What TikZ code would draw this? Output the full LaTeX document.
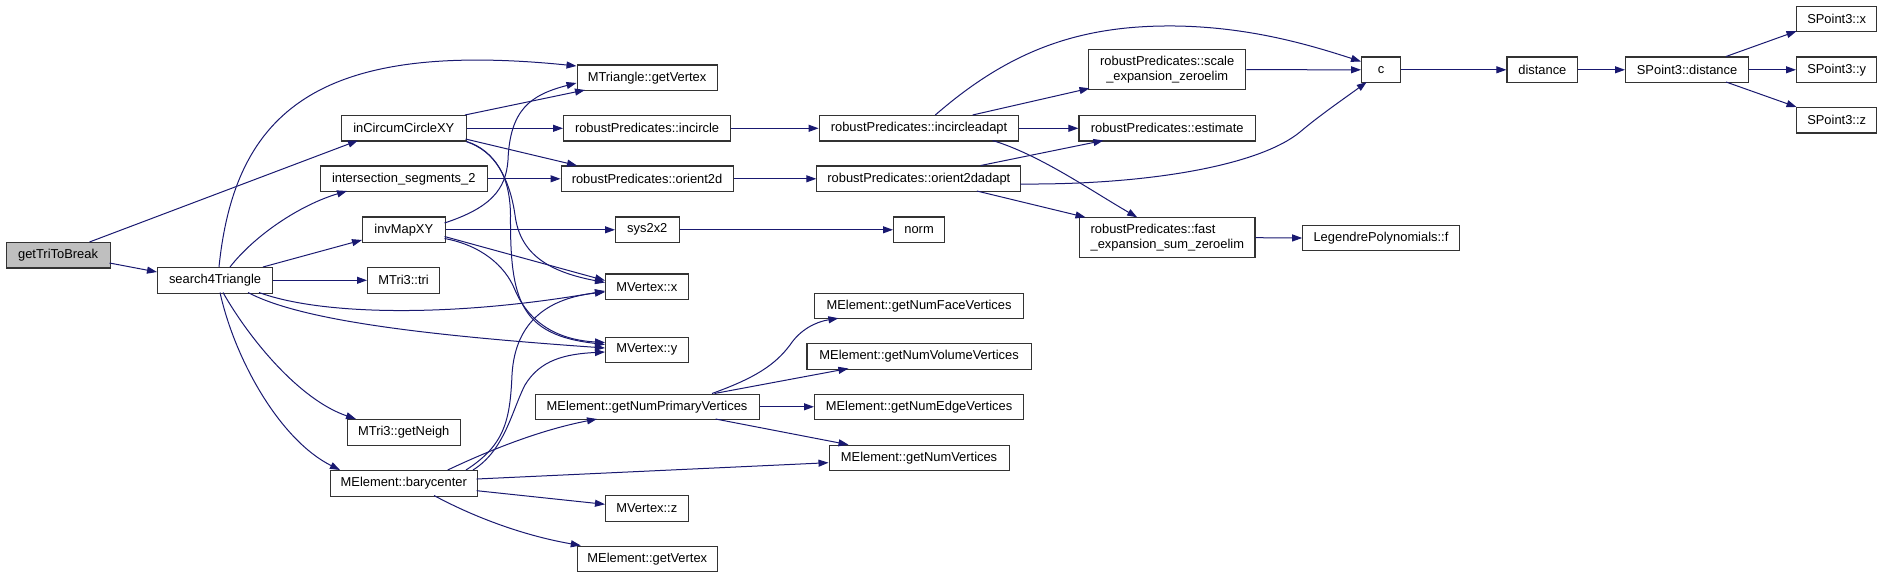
\documentclass[tikz,border=0pt]{standalone}
\usepackage{fontspec}
\setmainfont{Liberation Sans}
\usetikzlibrary{arrows.meta}
\definecolor{mblue}{HTML}{191970}
\definecolor{rootgray}{HTML}{BFBFBF}
\begin{document}
\begin{tikzpicture}[x=1pt,y=-1pt,
  box/.style={draw=black!80, line width=1.1pt, fill=white, inner sep=0pt, anchor=north west,
    font=\fontsize{12.9}{15}\selectfont, text=black},
  sz/.style 2 args={minimum width=#1pt, minimum height=#2pt},
  call/.style={draw=mblue, line width=1pt, -{Triangle[length=10pt,width=7pt]}},
]
\useasboundingbox (0,0) rectangle (1881,577);
% nodes
\node[box, sz={104}{25.5}, fill=rootgray] (gttb) at (5.5,242) {getTriToBreak};
\node[box, sz={115}{25.5}] (s4t) at (157,267) {search4Triangle};
\node[box, sz={140}{25.5}] (mtgv) at (576.5,64.5) {MTriangle::getVertex};
\node[box, sz={124.5}{25.5}] (icc) at (341,115) {inCircumCircleXY};
\node[box, sz={167}{25.5}] (incircle) at (563,115) {robustPredicates::incircle};
\node[box, sz={166.5}{25.5}] (is2) at (320,165.5) {intersection\_segments\_2};
\node[box, sz={172}{25.5}] (o2d) at (560.5,165.5) {robustPredicates::orient2d};
\node[box, sz={82.5}{25.5}] (inv) at (362,216.5) {invMapXY};
\node[box, sz={63.5}{25.5}] (sys) at (615,216.5) {sys2x2};
\node[box, sz={72}{25.5}] (tri) at (367,267) {MTri3::tri};
\node[box, sz={82.5}{25.5}] (mvx) at (605,273.5) {MVertex::x};
\node[box, sz={82.5}{25.5}] (mvy) at (605,336.5) {MVertex::y};
\node[box, sz={224}{25.5}] (gnpv) at (534.5,393.5) {MElement::getNumPrimaryVertices};
\node[box, sz={113}{25.5}] (neigh) at (346.7,419) {MTri3::getNeigh};
\node[box, sz={147}{25.5}] (bary) at (329.7,470) {MElement::barycenter};
\node[box, sz={82.5}{25.5}] (mvz) at (605,495) {MVertex::z};
\node[box, sz={140.5}{25.5}] (megv) at (576.5,545.5) {MElement::getVertex};
\node[box, sz={199.7}{25.5}] (ica) at (818.6,115) {robustPredicates::incircleadapt};
\node[box, sz={157.3}{39.7}, align=center] (see) at (1088,49.3) {robustPredicates::scale\\\_expansion\_zeroelim};
\node[box, sz={176.4}{25.5}] (est) at (1078.4,115) {robustPredicates::estimate};
\node[box, sz={204}{25.5}] (o2da) at (816.3,165.5) {robustPredicates::orient2dadapt};
\node[box, sz={51}{25.5}] (norm) at (893,216.5) {norm};
\node[box, sz={175.2}{39.7}, align=left] (fes) at (1079.2,217.3) {robustPredicates::fast\\\_expansion\_sum\_zeroelim};
\node[box, sz={156.4}{25.5}] (leg) at (1302.2,224.7) {LegendrePolynomials::f};
\node[box, sz={209}{25.5}] (gnfv) at (814,292.7) {MElement::getNumFaceVertices};
\node[box, sz={224.2}{25.5}] (gnvv) at (806.4,343) {MElement::getNumVolumeVertices};
\node[box, sz={209}{25.5}] (gnev) at (814,393.5) {MElement::getNumEdgeVertices};
\node[box, sz={180}{25.5}] (gnv) at (828.5,444.7) {MElement::getNumVertices};
\node[box, sz={39}{25.5}] (c) at (1361,56.5) {c};
\node[box, sz={70.8}{25.5}] (dist) at (1506.4,56.5) {distance};
\node[box, sz={123}{25.5}] (spd) at (1625,56.5) {SPoint3::distance};
\node[box, sz={80.2}{25.5}] (spx) at (1796,5.7) {SPoint3::x};
\node[box, sz={80.2}{25.5}] (spy) at (1796,56.5) {SPoint3::y};
\node[box, sz={80.2}{25.5}] (spz) at (1796,107) {SPoint3::z};
% edges
\draw[call] ([shift={(84,0)}]gttb.north west) -- ([shift={(17,25.5)}]icc.north west);
\draw[call] ([shift={(104,21)}]gttb.north west) -- ([shift={(0,5)}]s4t.north west);
\draw[call] ([shift={(62,0)}]s4t.north west) .. controls (235,110) and (320,40) .. ([shift={(0,1.5)}]mtgv.north west);
\draw[call] ([shift={(73,0)}]s4t.north west) .. controls (255,235) and (300,205) .. ([shift={(27,25.5)}]is2.north west);
\draw[call] ([shift={(106,0)}]s4t.north west) -- ([shift={(0,23.5)}]inv.north west);
\draw[call] (s4t.east) -- (tri.west);
\draw[call] ([shift={(102,25.5)}]s4t.north west) .. controls (320,315) and (450,318) .. ([shift={(0,17.5)}]mvx.north west);
\draw[call] ([shift={(91,25.5)}]s4t.north west) .. controls (300,320) and (420,335) .. ([shift={(0,11.5)}]mvy.north west);
\draw[call] ([shift={(66,25.5)}]s4t.north west) .. controls (250,340) and (300,400) .. ([shift={(9.3,0)}]neigh.north west);
\draw[call] ([shift={(63,25.5)}]s4t.north west) .. controls (235,360) and (280,440) .. ([shift={(10.3,0)}]bary.north west);
\draw[call] ([shift={(124,0)}]icc.north west) -- ([shift={(8.5,25.5)}]mtgv.north west);
\draw[call] (icc.east) -- (incircle.west);
\draw[call] ([shift={(124.5,24)}]icc.north west) -- ([shift={(16.5,0)}]o2d.north west);
\draw[call] (icc.south east) .. controls (495,150) and (510,180) .. (515,215) .. controls (520,255) and (550,272) .. ([shift={(0,9)}]mvx.north west);
\draw[call] (icc.south east) .. controls (495,152) and (510,175) .. (510.5,215) .. controls (510,300) and (520,335) .. ([shift={(0,8)}]mvy.north west);
\draw[call] (is2.east) -- (o2d.west);
\draw[call] ([shift={(82.5,6.5)}]inv.north west) .. controls (490,208) and (506,190) .. (508,160) .. controls (510,110) and (530,95) .. ([shift={(0,18.5)}]mtgv.north west);
\draw[call] (inv.east) -- (sys.west);
\draw[call] ([shift={(82.5,20)}]inv.north west) -- ([shift={(0,7)}]mvx.north west);
\draw[call] ([shift={(82.5,22)}]inv.north west) .. controls (480,245) and (505,265) .. (515,290) .. controls (530,325) and (560,340) .. ([shift={(0,6)}]mvy.north west);
\draw[call] (sys.east) -- (norm.west);
\draw[call] (incircle.east) -- (ica.west);
\draw[call] (o2d.east) -- (o2da.west);
\draw[call] ([shift={(116.7,0)}]ica.north west) .. controls (1010,50) and (1080,25) .. (1175,26) .. controls (1250,27) and (1310,45) .. ([shift={(0,5)}]c.north west);
\draw[call] ([shift={(154,0)}]ica.north west) -- ([shift={(1.5,39)}]see.north west);
\draw[call] (ica.east) -- (est.west);
\draw[call] ([shift={(174,25.5)}]ica.north west) .. controls (1040,155) and (1090,190) .. ([shift={(58,0)}]fes.north west);
\draw[call] ([shift={(164.4,0)}]o2da.north west) -- ([shift={(25,25.5)}]est.north west);
\draw[call] ([shift={(204,18.5)}]o2da.north west) .. controls (1150,185) and (1260,165) .. (1300,132) .. controls (1320,115) and (1345,98) .. ([shift={(5.7,25.5)}]c.north west);
\draw[call] ([shift={(160.5,25.5)}]o2da.north west) -- ([shift={(6.3,0)}]fes.north west);
\draw[call] (see.east) -- (c.west);
\draw[call] (fes.east) -- (leg.west);
\draw[call] (c.east) -- (dist.west);
\draw[call] (dist.east) -- (spd.west);
\draw[call] ([shift={(101,0)}]spd.north west) -- ([shift={(0.5,25.5)}]spx.north west);
\draw[call] (spd.east) -- (spy.west);
\draw[call] ([shift={(101,25.5)}]spd.north west) -- ([shift={(0.5,0)}]spz.north west);
\draw[call] ([shift={(136.3,0)}]bary.north west) .. controls (505,445) and (510,420) .. (512,375) .. controls (515,320) and (550,298) .. ([shift={(0,18.5)}]mvx.north west);
\draw[call] ([shift={(143.3,0)}]bary.north west) .. controls (505,450) and (512,410) .. (525,385) .. controls (540,360) and (565,354) .. ([shift={(0,15.5)}]mvy.north west);
\draw[call] ([shift={(118,0)}]bary.north west) .. controls (490,450) and (540,430) .. ([shift={(62.5,25.5)}]gnpv.north west);
\draw[call] ([shift={(147,9)}]bary.north west) -- ([shift={(0,18)}]gnv.north west);
\draw[call] ([shift={(147,20.7)}]bary.north west) -- ([shift={(0,9.3)}]mvz.north west);
\draw[call] ([shift={(104.3,25.5)}]bary.north west) .. controls (470,515) and (520,535) .. ([shift={(4.3,0)}]megv.north west);
\draw[call] ([shift={(177.5,0)}]gnpv.north west) .. controls (755,378) and (775,365) .. (790,345) .. controls (800,330) and (815,322) .. ([shift={(24.4,25.5)}]gnfv.north west);
\draw[call] ([shift={(180,0)}]gnpv.north west) -- ([shift={(42,25.5)}]gnvv.north west);
\draw[call] (gnpv.east) -- (gnev.west);
\draw[call] ([shift={(181,25.5)}]gnpv.north west) -- ([shift={(20,0)}]gnv.north west);
\end{tikzpicture}
\end{document}
